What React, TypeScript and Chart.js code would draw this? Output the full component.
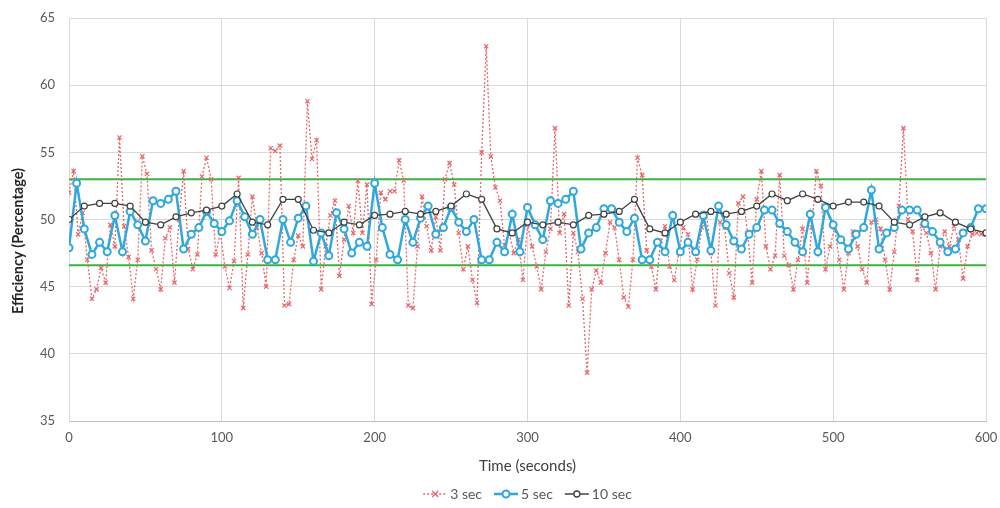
import React, { useEffect, useRef } from "react";
import { Chart, registerables } from "chart.js";

Chart.register(...registerables);

// ---- Data ----
const seriesLabels = ["3 sec", "5 sec", "10 sec"];
const seriesSteps = [3, 5, 10];
const xAxisTitle = "Time (seconds)";
const yAxisTitle = "Efficiency (Percentage)";

const sec3Values = [
  52.0, 53.6, 48.9, 50.5, 47.0, 44.1, 44.8, 46.4, 45.3, 49.6,
  48.0, 56.1, 49.5, 47.2, 44.1, 47.0, 54.7, 53.4, 47.7, 46.3,
  44.8, 48.6, 49.4, 45.3, 50.0, 53.6, 47.8, 46.3, 47.4, 53.2,
  54.6, 53.0, 47.4, 49.0, 46.5, 44.9, 46.9, 53.1, 43.4, 47.4,
  51.7, 49.4, 47.5, 45.0, 55.3, 55.1, 55.5, 43.6, 43.7, 47.0,
  48.8, 48.0, 58.8, 54.5, 55.9, 44.8, 48.0, 50.3, 51.4, 45.8,
  48.5, 51.0, 49.0, 52.9, 49.0, 52.6, 43.7, 47.0, 52.0, 51.5,
  52.1, 52.1, 54.4, 52.9, 43.6, 43.4, 48.0, 51.7, 49.5, 47.7,
  50.2, 47.7, 53.0, 54.2, 52.6, 49.0, 46.3, 48.0, 45.5, 43.8,
  55.0, 62.9, 54.7, 52.4, 51.4, 48.1, 49.0, 47.5, 48.5, 45.5,
  49.6, 48.0, 46.5, 44.8, 47.6, 49.3, 56.8, 49.0, 50.4, 43.6,
  49.0, 47.6, 44.1, 38.6, 44.8, 46.2, 45.3, 47.5, 49.8, 49.4,
  47.0, 44.2, 43.5, 47.0, 54.6, 53.3, 47.7, 46.5, 44.8, 48.4,
  49.5, 46.5, 45.5, 47.5, 49.4, 48.9, 44.8, 47.0, 49.4, 50.5,
  47.5, 43.6, 49.8, 49.4, 46.0, 44.2, 51.2, 51.7, 49.0, 45.3,
  51.5, 53.6, 48.0, 46.3, 47.3, 53.3, 47.3, 46.6, 44.8, 47.0,
  49.3, 45.3, 49.4, 53.6, 52.5, 46.3, 48.0, 49.4, 47.0, 44.8,
  47.5, 49.1, 48.0, 46.3, 45.3, 49.8, 50.0, 49.3, 47.0, 44.8,
  47.6, 51.0, 56.8, 50.0, 49.1, 45.5, 49.5, 49.0, 47.5, 44.8,
  48.0, 49.1, 48.0, 49.5, 48.5, 45.6, 48.0, 48.9, 49.0, 48.9,
  48.9,
];

const sec5Values = [
  47.9, 52.7, 49.3, 47.4, 48.3, 47.6, 50.3, 47.6, 50.6, 49.6,
  48.4, 51.4, 51.2, 51.5, 52.1, 47.8, 48.9, 49.4, 50.6, 49.7,
  49.1, 49.9, 51.4, 50.2, 48.9, 50.0, 47.0, 47.0, 50.0, 48.3,
  50.1, 51.0, 46.9, 49.0, 47.3, 50.5, 49.3, 47.5, 48.3, 48.0,
  52.7, 49.4, 47.4, 47.0, 50.0, 48.3, 50.1, 51.0, 48.9, 49.4,
  50.9, 49.8, 49.1, 50.0, 47.0, 47.0, 48.3, 47.6, 50.4, 47.6,
  50.9, 49.6, 48.5, 51.4, 51.2, 51.5, 52.1, 47.8, 49.0, 49.4,
  50.8, 50.8, 49.8, 49.1, 50.1, 47.0, 47.0, 48.3, 47.6, 50.3,
  47.6, 48.3, 47.6, 50.3, 47.7, 51.0, 49.6, 48.4, 47.8, 48.9,
  49.4, 50.7, 50.7, 49.7, 49.1, 48.3, 47.6, 50.4, 47.6, 50.9,
  49.6, 48.5, 47.8, 48.9, 49.4, 52.2, 47.8, 49.0, 49.4, 50.7,
  50.7, 50.7, 49.7, 49.1, 48.3, 47.6, 47.8, 49.0, 49.4, 50.8,
  50.8,
];

const sec10Values = [
  50.0, 51.0, 51.2, 51.2, 51.0, 49.8, 49.6, 50.2, 50.5, 50.7,
  51.0, 51.9, 49.8, 49.6, 51.5, 51.5, 49.2, 49.0, 49.8, 49.6,
  50.3, 50.4, 50.6, 50.4, 50.6, 51.0, 51.9, 51.5, 49.3, 49.0,
  49.8, 49.6, 49.8, 49.6, 50.3, 50.4, 50.6, 51.5, 49.3, 49.0,
  49.8, 50.4, 50.6, 50.4, 50.6, 51.0, 51.9, 51.4, 51.9, 51.5,
  51.0, 51.3, 51.3, 51.0, 49.8, 49.6, 50.2, 50.5, 49.8, 49.3,
  49.0,
];

const limitUpper = 53.0;
const limitLower = 46.6;
const timeRange = [0, 600];
const valueRange = [35, 65];
const xTickStep = 100;
const yTickStep = 5;

const RED = "#e8676a";
const BLUE = "#2fa8dc";
const DARK = "#404040";
const GREEN = "#3cb043";
const FONT = "Lato, 'Liberation Sans', sans-serif";

function toPoints(values: number[], step: number) {
  return values.map((v, i) => ({ x: i * step, y: v }));
}

const yTitlePlugin = {
  id: "yTitle",
  afterDraw(chart: any) {
    const ctx = chart.ctx as CanvasRenderingContext2D;
    ctx.save();
    ctx.translate(18, 241);
    ctx.rotate(-Math.PI / 2);
    ctx.font = `bold 14.5px ${FONT}`;
    ctx.fillStyle = "#262626";
    ctx.textAlign = "center";
    ctx.textBaseline = "middle";
    ctx.fillText(yAxisTitle, 0, 0);
    ctx.restore();
  },
};

const legendPlugin = {
  id: "customLegend",
  afterDraw(chart: any) {
    const ctx = chart.ctx as CanvasRenderingContext2D;
    const area = chart.chartArea;
    const items = [
      { label: seriesLabels[0], color: RED, dash: [2, 2], lw: 1.5, marker: "cross" },
      { label: seriesLabels[1], color: BLUE, dash: [], lw: 2.5, marker: "circleBlue" },
      { label: seriesLabels[2], color: DARK, dash: [], lw: 1.5, marker: "circleDark" },
    ];
    ctx.save();
    ctx.font = `14px ${FONT}`;
    const lineLen = 24;
    const gap = 3;
    const spacing = 12;
    const widths = items.map((it) => lineLen + gap + ctx.measureText(it.label).width);
    const total = widths.reduce((a, b) => a + b, 0) + spacing * (items.length - 1);
    let x = (area.left + area.right) / 2 - total / 2;
    const y = 494;
    items.forEach((it, idx) => {
      ctx.strokeStyle = it.color;
      ctx.lineWidth = it.lw;
      ctx.setLineDash(it.dash);
      ctx.beginPath();
      ctx.moveTo(x, y);
      ctx.lineTo(x + lineLen, y);
      ctx.stroke();
      ctx.setLineDash([]);
      const cx = x + lineLen / 2;
      if (it.marker === "cross") {
        const r = 3;
        ctx.lineWidth = 1.2;
        ctx.beginPath();
        ctx.moveTo(cx - r, y - r);
        ctx.lineTo(cx + r, y + r);
        ctx.moveTo(cx + r, y - r);
        ctx.lineTo(cx - r, y + r);
        ctx.stroke();
      } else {
        ctx.fillStyle = "#ffffff";
        ctx.lineWidth = it.marker === "circleBlue" ? 2 : 1.3;
        ctx.beginPath();
        ctx.arc(cx, y, it.marker === "circleBlue" ? 3.5 : 3, 0, Math.PI * 2);
        ctx.fill();
        ctx.stroke();
      }
      ctx.fillStyle = "#595959";
      ctx.textBaseline = "middle";
      ctx.textAlign = "left";
      ctx.fillText(it.label, x + lineLen + gap, y);
      x += widths[idx] + spacing;
    });
    ctx.restore();
  },
};

export default function App() {
  const canvasRef = useRef<HTMLCanvasElement | null>(null);

  useEffect(() => {
    const canvas = canvasRef.current;
    if (!canvas) return;
    const chart = new Chart(canvas, {
      type: "line",
      data: {
        datasets: [
          {
            label: "upper",
            data: [
              { x: timeRange[0], y: limitUpper },
              { x: timeRange[1], y: limitUpper },
            ],
            borderColor: GREEN,
            borderWidth: 2,
            pointRadius: 0,
            order: 5,
          },
          {
            label: "lower",
            data: [
              { x: timeRange[0], y: limitLower },
              { x: timeRange[1], y: limitLower },
            ],
            borderColor: GREEN,
            borderWidth: 2,
            pointRadius: 0,
            order: 5,
          },
          {
            label: seriesLabels[0],
            data: toPoints(sec3Values, seriesSteps[0]),
            borderColor: RED,
            borderWidth: 1.3,
            borderDash: [2, 2],
            pointStyle: "crossRot",
            pointRadius: 3,
            pointBorderWidth: 1.2,
            pointBorderColor: RED,
            order: 3,
          },
          {
            label: seriesLabels[1],
            data: toPoints(sec5Values, seriesSteps[1]),
            borderColor: BLUE,
            borderWidth: 2.5,
            pointStyle: "circle",
            pointRadius: 3.5,
            pointBorderWidth: 2,
            pointBackgroundColor: "#ffffff",
            pointBorderColor: BLUE,
            order: 2,
          },
          {
            label: seriesLabels[2],
            data: toPoints(sec10Values, seriesSteps[2]),
            borderColor: DARK,
            borderWidth: 1.3,
            pointStyle: "circle",
            pointRadius: 3,
            pointBorderWidth: 1.2,
            pointBackgroundColor: "#ffffff",
            pointBorderColor: DARK,
            order: 1,
          },
        ],
      },
      options: {
        animation: false,
        responsive: false,
        maintainAspectRatio: false,
        layout: { padding: { top: 18, right: 14, left: 0, bottom: 0 } },
        plugins: {
          legend: { display: false },
          tooltip: { enabled: false },
        },
        elements: { line: { tension: 0 } },
        scales: {
          x: {
            type: "linear",
            min: timeRange[0],
            max: timeRange[1],
            ticks: {
              stepSize: xTickStep,
              color: "#595959",
              font: { family: FONT, size: 13 },
              padding: 9,
              maxRotation: 0,
            },
            grid: { color: "#d9d9d9", drawTicks: false },
            border: { color: "#bfbfbf" },
            title: {
              display: true,
              text: xAxisTitle,
              color: "#404040",
              font: { family: FONT, size: 15 },
              padding: { top: 0, bottom: 33 },
            },
            afterFit(scale: any) {
              scale.height = 87;
              scale.paddingLeft = 0;
              scale.paddingRight = 0;
            },
          },
          y: {
            min: valueRange[0],
            max: valueRange[1],
            ticks: {
              stepSize: yTickStep,
              color: "#595959",
              font: { family: FONT, size: 13 },
              padding: 14,
            },
            grid: { color: "#d9d9d9", drawTicks: false },
            border: { color: "#d9d9d9" },
            title: { display: false },
            afterFit(scale: any) {
              scale.width = 69;
              scale.paddingTop = 0;
              scale.paddingBottom = 0;
            },
          },
        },
      },
      plugins: [legendPlugin, yTitlePlugin],
    });
    return () => chart.destroy();
  }, []);

  return (
    <div style={{ position: "fixed", left: 0, top: 0, width: 1000, height: 508, background: "#ffffff" }}>
      <canvas ref={canvasRef} width={1000} height={508} style={{ width: 1000, height: 508 }} />
    </div>
  );
}
